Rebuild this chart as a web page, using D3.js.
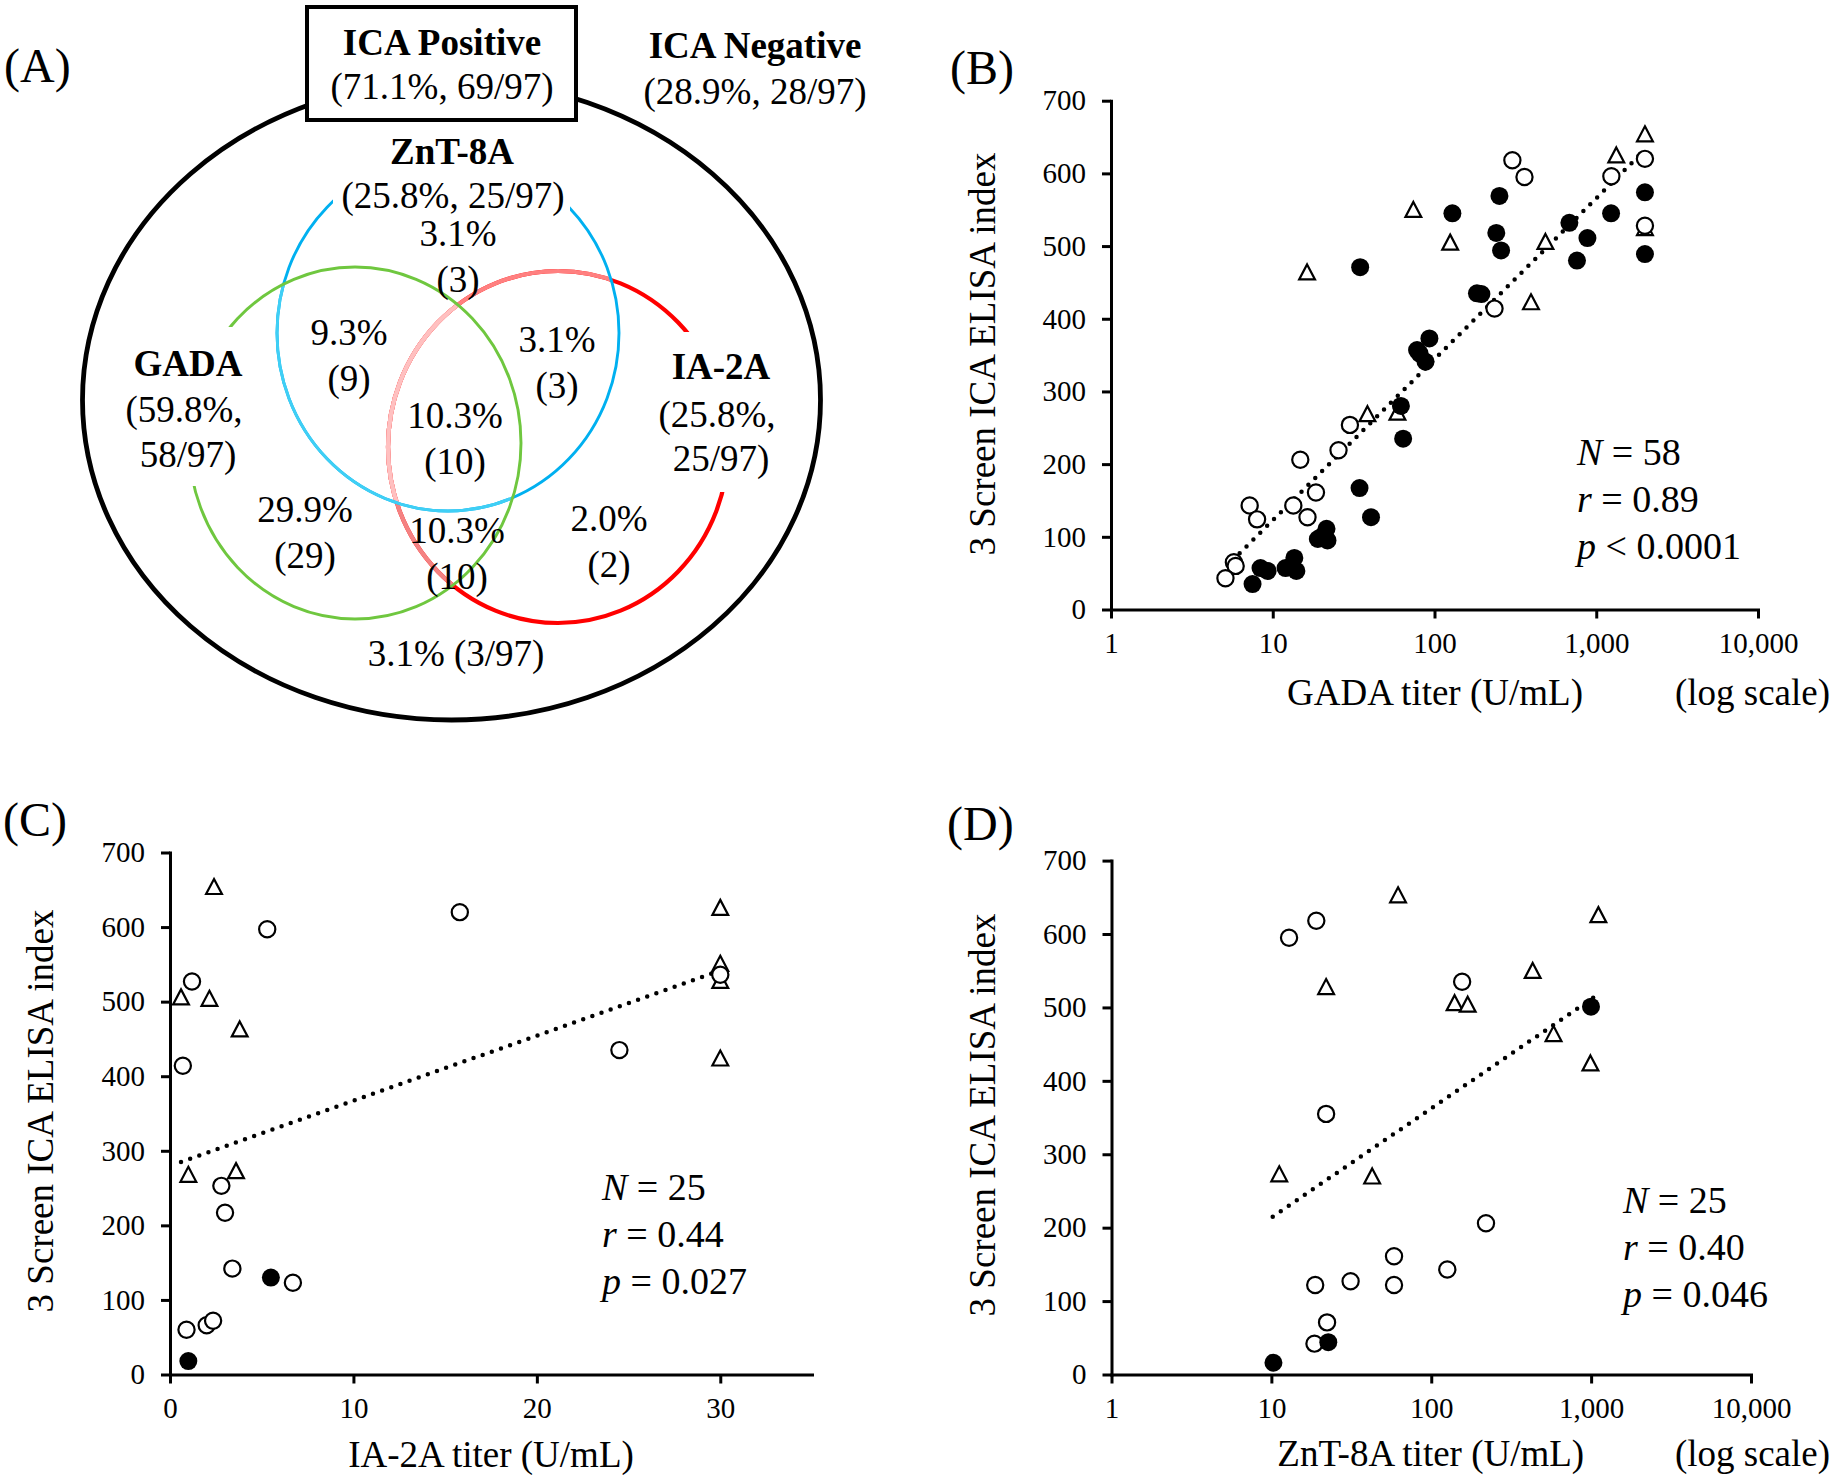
<!DOCTYPE html>
<html>
<head>
<meta charset="utf-8">
<script src="https://cdn.jsdelivr.net/npm/d3@7"></script>
<style>
  body { margin: 0; background: #fff; }
  svg text { font-family: "Liberation Serif", "Times New Roman", serif; fill: #000; }
</style>
</head>
<body>
<svg id="fig" width="1833" height="1475"></svg>
<script>
// ---- (A) Venn diagram values ----
const icaGroups = ["ICA Positive", "ICA Negative"];
const icaShares = ["(71.1%, 69/97)", "(28.9%, 28/97)"];
const antibodies = ["GADA", "IA-2A", "ZnT-8A"];
const antibodyShares = [["(59.8%,", "58/97)"], ["(25.8%,", "25/97)"], ["(25.8%, 25/97)"]];
// regions: ZnT only, GADA+ZnT, ZnT+IA, all three, GADA only, GADA+IA, IA only
const regionPct = ["3.1%", "9.3%", "3.1%", "10.3%", "29.9%", "10.3%", "2.0%"];
const regionN = ["(3)", "(9)", "(3)", "(10)", "(29)", "(10)", "(2)"];
const noneShare = "3.1% (3/97)";

// ---- (B) GADA titer vs ELISA index ----
const bCircle = [[303, 618], [360, 595], [1240, 596], [2000, 620], [2000, 528], [235, 414],
  [30, 254], [25.5, 219], [14.8, 206], [18.5, 161], [7.2, 143], [8.0, 124], [13.4, 143],
  [16.4, 127], [5.75, 65], [5.9, 60], [5.1, 43]];
const bTriangle = [[2000, 654], [1330, 625], [2000, 525], [74, 550], [125, 505], [485, 506],
  [16.3, 464], [395, 423], [38.5, 269], [59, 271]];
const bFilled = [[252, 569], [129, 545], [241, 518], [258, 494], [34.7, 471], [682, 532],
  [1235, 545], [882, 511], [760, 480], [2000, 574], [2000, 489], [183, 435], [195, 434],
  [93, 373], [78, 357], [81, 352], [88, 341], [62, 280], [64, 235], [34.4, 167], [40.5, 127],
  [21.5, 111], [19, 97], [21.8, 95], [20, 100], [13.6, 71], [12, 57], [14, 53], [8.4, 57],
  [9.3, 53], [7.5, 35]];
const bTrend = [[5.66, 68], [1950, 630]];
const bStats = [["N", " = 58"], ["r", " = 0.89"], ["p", " < 0.0001"]];

// ---- (C) IA-2A titer vs ELISA index ----
const cCircle = [[5.3, 597], [15.8, 620], [1.2, 527], [0.7, 414], [24.5, 435], [30, 536],
  [2.8, 253], [3.0, 217], [3.4, 142], [6.7, 123], [0.9, 60], [2.0, 66], [2.35, 72]];
const cTriangle = [[2.4, 654], [30, 626], [30, 551], [30, 528], [30, 424], [0.6, 506],
  [2.15, 504], [3.8, 463], [1.0, 268], [3.6, 273]];
const cFilled = [[5.5, 130], [1.0, 18]];
const cTrend = [[0.6, 285], [29.8, 540]];
const cStats = [["N", " = 25"], ["r", " = 0.44"], ["p", " = 0.027"]];

// ---- (D) ZnT-8A titer vs ELISA index ----
const dCircle = [[12.9, 595], [19.1, 618], [22, 355], [156, 535], [220, 206], [58.5, 161],
  [58.5, 122], [126, 143], [18.8, 122], [31.3, 127], [22.3, 71], [18.6, 42]];
const dTriangle = [[62, 653], [1110, 626], [22, 528], [431, 550], [140, 506], [169, 504],
  [582, 464], [990, 424], [11.2, 273], [42.7, 270]];
const dFilled = [[998, 501], [22.7, 44], [10.3, 16]];
const dTrend = [[10.2, 215], [1078, 516]];
const dStats = [["N", " = 25"], ["r", " = 0.40"], ["p", " = 0.046"]];

// ---- axes ----
const yTicks = [0, 100, 200, 300, 400, 500, 600, 700];
const logTicks = [1, 10, 100, 1000, 10000];
const logTickLabels = ["1", "10", "100", "1,000", "10,000"];
const linTicks = [0, 10, 20, 30];
const linTickLabels = ["0", "10", "20", "30"];
const yTitle = "3 Screen ICA ELISA index";

const svg = d3.select("#fig");
svg.append("rect").attr("width", 1833).attr("height", 1475).attr("fill", "#fff");

const BIG = 37;

// ================= (A) =================
const gA = svg.append("g");
const defs = svg.append("defs");

const outer = { cx: 451.5, cy: 400, rx: 369, ry: 320 };
const sets = {
  gada: { cx: 355, cy: 443, rx: 166, ry: 176 },
  ia: { cx: 558, cy: 447, rx: 170, ry: 176 },
  znt: { cx: 448, cy: 333, rx: 171, ry: 178 }
};

function ell(sel, e) {
  return sel.append("ellipse")
    .attr("cx", e.cx).attr("cy", e.cy).attr("rx", e.rx).attr("ry", e.ry)
    .attr("fill", "none");
}

defs.append("clipPath").attr("id", "clipZnt").call(s => ell(s, sets.znt));
defs.append("clipPath").attr("id", "clipGada").call(s => ell(s, sets.gada));

ell(gA, outer).attr("stroke", "#000").attr("stroke-width", 4.8);

// IA-2A circle, paler where it lies inside the other two
ell(gA, sets.ia).attr("stroke", "#ff0000").attr("stroke-width", 4.2);
ell(gA.append("g").attr("clip-path", "url(#clipZnt)"), sets.ia)
  .attr("stroke", "#ff8080").attr("stroke-width", 4.2);
ell(gA.append("g").attr("clip-path", "url(#clipGada)"), sets.ia)
  .attr("stroke", "#f48282").attr("stroke-width", 4.2);
ell(gA.append("g").attr("clip-path", "url(#clipZnt)")
  .append("g").attr("clip-path", "url(#clipGada)"), sets.ia)
  .attr("stroke", "#ffc0c0").attr("stroke-width", 4.2);

// ZnT-8A circle
ell(gA, sets.znt).attr("stroke", "#00b0f0").attr("stroke-width", 2.9);
ell(gA.append("g").attr("clip-path", "url(#clipGada)"), sets.znt)
  .attr("stroke", "#3fcff5").attr("stroke-width", 2.9);

// GADA circle
ell(gA, sets.gada).attr("stroke", "#6fc73f").attr("stroke-width", 2.9);

// white label backgrounds
const labelBoxes = [[118, 327, 132, 159], [650, 332, 135, 160], [333, 122, 237, 90]];
gA.selectAll("rect.lbl").data(labelBoxes).enter().append("rect")
  .attr("class", "lbl")
  .attr("x", d => d[0]).attr("y", d => d[1])
  .attr("width", d => d[2]).attr("height", d => d[3])
  .attr("fill", "#fff");

// ICA positive box
gA.append("rect").attr("x", 307).attr("y", 7).attr("width", 269).attr("height", 113)
  .attr("fill", "#fff").attr("stroke", "#000").attr("stroke-width", 4);

function txt(g, s, x, y, opt) {
  opt = opt || {};
  return g.append("text").attr("x", x).attr("y", y)
    .attr("text-anchor", opt.anchor || "middle")
    .attr("font-size", opt.size || BIG)
    .attr("font-weight", opt.bold ? "bold" : "normal")
    .text(s);
}

txt(gA, "(A)", 4, 82, { anchor: "start", size: 48 });
txt(gA, icaGroups[0], 442, 55, { bold: true });
txt(gA, icaShares[0], 442, 99);
txt(gA, icaGroups[1], 755, 58, { bold: true });
txt(gA, icaShares[1], 755, 104);

const setLabelPos = [[[188, 376], [184, 422], [188, 467]],
                     [[721, 379], [717, 427], [721, 471]],
                     [[452, 164], [453, 208]]];
antibodies.forEach((name, i) => {
  const p = setLabelPos[i];
  txt(gA, name, p[0][0], p[0][1], { bold: true });
  antibodyShares[i].forEach((s, j) => txt(gA, s, p[j + 1][0], p[j + 1][1]));
});

const regionPos = [[458, 246], [349, 345], [557, 352], [455, 428], [305, 522], [457, 543], [609, 531]];
regionPct.forEach((s, i) => {
  txt(gA, s, regionPos[i][0], regionPos[i][1]);
  txt(gA, regionN[i], regionPos[i][0], regionPos[i][1] + 46);
});
txt(gA, noneShare, 456, 666);

// ================= scatter panels =================
function drawPanel(p) {
  const g = svg.append("g");
  const x = (p.log ? d3.scaleLog() : d3.scaleLinear()).domain(p.xDomain).range(p.xRange);
  const y = d3.scaleLinear().domain([0, 700]).range(p.yRange);

  const xAxis = d3.axisBottom(x).tickValues(p.xTicks)
    .tickFormat((d, i) => p.xTickLabels[i])
    .tickSize(9).tickSizeOuter(0).tickPadding(14);
  const yAxis = d3.axisLeft(y).tickValues(yTicks)
    .tickSize(9).tickSizeOuter(0).tickPadding(16);

  g.append("g").attr("transform", "translate(0," + p.yRange[0] + ")").call(xAxis);
  g.append("g").attr("transform", "translate(" + p.xRange[0] + ",0)").call(yAxis);
  g.selectAll(".domain").attr("stroke", "#000").attr("stroke-width", 3).attr("stroke-linecap", "square");
  g.selectAll(".tick line").attr("stroke", "#000").attr("stroke-width", 3);
  g.selectAll(".tick text")
    .attr("font-family", "'Liberation Serif', 'Times New Roman', serif")
    .attr("font-size", 29).attr("fill", "#000");

  // trend line (dotted)
  g.append("path").datum(p.trend)
    .attr("d", d3.line().x(d => x(d[0])).y(d => y(d[1])))
    .attr("fill", "none").attr("stroke", "#000").attr("stroke-width", 4.5)
    .attr("stroke-linecap", "round").attr("stroke-dasharray", "0 9.7");

  // markers
  g.selectAll(".tri").data(p.triangle).enter().append("path")
    .attr("transform", d => "translate(" + x(d[0]) + "," + y(d[1]) + ")")
    .attr("d", "M0,-7.8L7.9,7.2L-7.9,7.2Z")
    .attr("fill", "#fff").attr("stroke", "#000").attr("stroke-width", 2.2)
    .attr("stroke-linejoin", "miter");
  g.selectAll(".open").data(p.circle).enter().append("circle")
    .attr("cx", d => x(d[0])).attr("cy", d => y(d[1])).attr("r", 8.1)
    .attr("fill", "#fff").attr("stroke", "#000").attr("stroke-width", 2.2);
  g.selectAll(".fill").data(p.filled).enter().append("circle")
    .attr("cx", d => x(d[0])).attr("cy", d => y(d[1])).attr("r", 9)
    .attr("fill", "#000");

  // labels
  txt(g, p.tag, p.tagPos[0], p.tagPos[1], { anchor: "start", size: 48 });
  txt(g, p.xTitle, (p.xRange[0] + p.xRange[1]) / 2 + p.xTitleShift, p.xTitleY);
  if (p.log) txt(g, "(log scale)", 1830, p.xTitleY, { anchor: "end" });
  g.append("text")
    .attr("transform", "translate(" + p.yTitlePos[0] + "," + p.yTitlePos[1] + ") rotate(-90)")
    .attr("text-anchor", "middle").attr("font-size", BIG).text(yTitle);

  p.stats.forEach((s, i) => {
    const t = g.append("text").attr("x", p.statsPos[0]).attr("y", p.statsPos[1] + i * 47)
      .attr("font-size", 38);
    t.append("tspan").attr("font-style", "italic").text(s[0]);
    t.append("tspan").text(s[1]);
  });
}

drawPanel({
  tag: "(B)", tagPos: [950, 84], log: true,
  xDomain: [1, 10000], xRange: [1111, 1758], yRange: [609.5, 100.7],
  xTicks: logTicks, xTickLabels: logTickLabels,
  xTitle: "GADA titer (U/mL)", xTitleShift: 0.5, xTitleY: 705, yTitlePos: [995, 354],
  circle: bCircle, triangle: bTriangle, filled: bFilled, trend: bTrend,
  stats: bStats, statsPos: [1577, 465]
});

drawPanel({
  tag: "(C)", tagPos: [3, 836], log: false,
  xDomain: [0, 35], xRange: [170, 812], yRange: [1374.5, 852.5],
  xTicks: linTicks, xTickLabels: linTickLabels,
  xTitle: "IA-2A titer (U/mL)", xTitleShift: 0, xTitleY: 1467, yTitlePos: [53, 1111],
  circle: cCircle, triangle: cTriangle, filled: cFilled, trend: cTrend,
  stats: cStats, statsPos: [602, 1199.5]
});

drawPanel({
  tag: "(D)", tagPos: [947, 840], log: true,
  xDomain: [1, 10000], xRange: [1111.5, 1751], yRange: [1374.5, 860.6],
  xTicks: logTicks, xTickLabels: logTickLabels,
  xTitle: "ZnT-8A titer (U/mL)", xTitleShift: -0.5, xTitleY: 1466, yTitlePos: [995, 1115],
  circle: dCircle, triangle: dTriangle, filled: dFilled, trend: dTrend,
  stats: dStats, statsPos: [1623, 1213]
});
</script>
</body>
</html>
